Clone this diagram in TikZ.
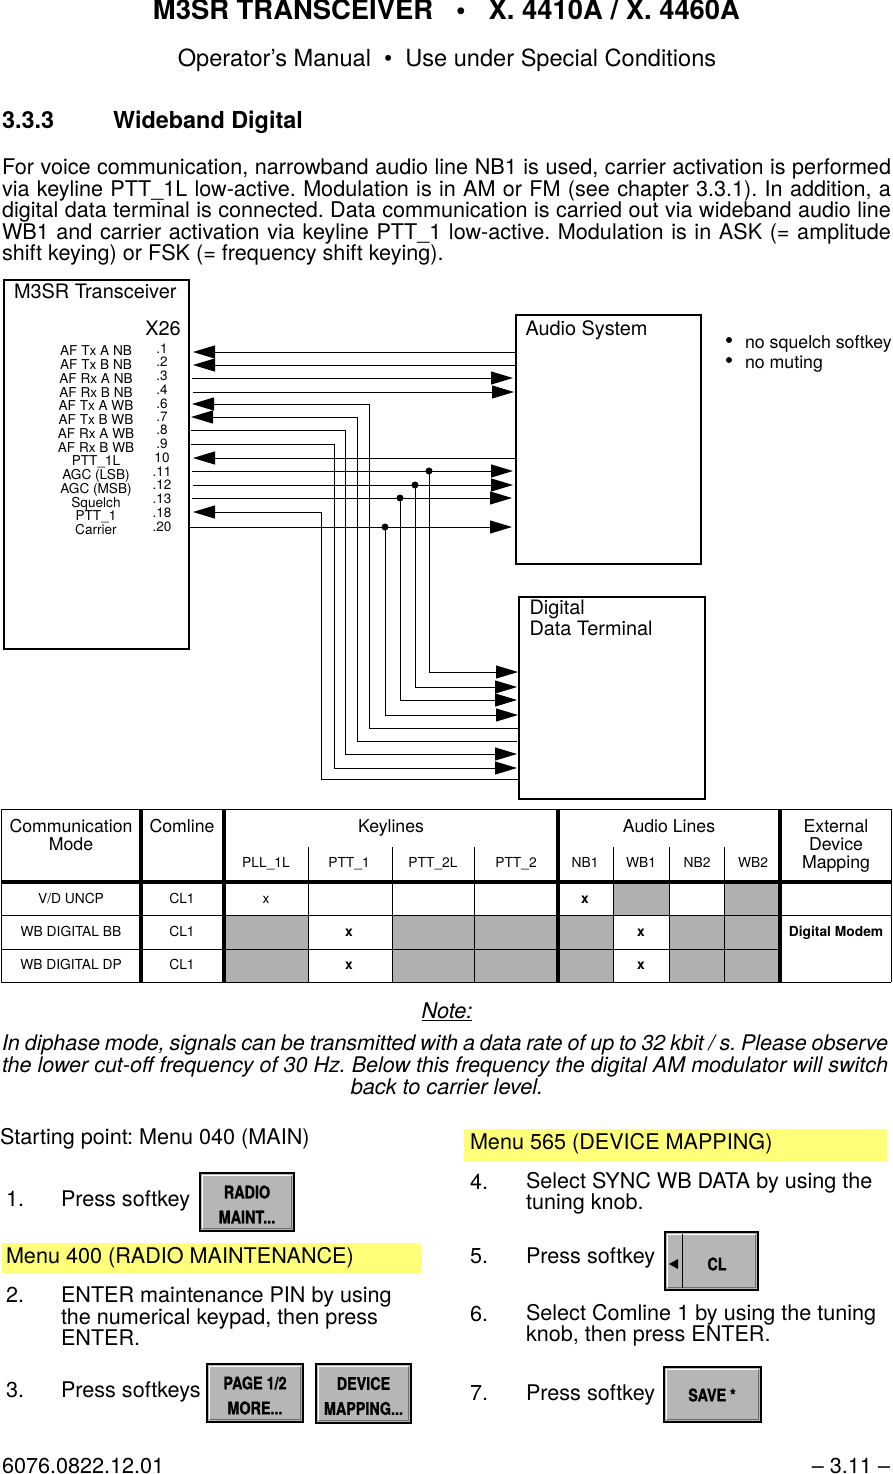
\documentclass[tikz,border=0pt]{standalone}
\usepackage{fontspec}
\setmainfont{TeX Gyre Heros}
\newfontfamily\btnfont{TeX Gyre Heros}[FakeStretch=0.82,FakeBold=1]
\usetikzlibrary{arrows.meta,calc}
\frenchspacing
\newcommand{\fs}[2]{\fontsize{#1}{#2}\selectfont}
\newcommand{\jl}[1]{\makebox[889pt][s]{#1}}
\newcommand{\il}[1]{\makebox[886pt][s]{#1}}
\definecolor{cellgray}{HTML}{B0B0B0}
\definecolor{btngray}{HTML}{B6B6B6}
\definecolor{btndark}{HTML}{6E6E6E}
\definecolor{hiyellow}{HTML}{FFFF7A}
\tikzset{
  x=1pt,y=-1pt,
  tb/.style={inner sep=0pt,outer sep=0pt},
  txt/.style={tb,anchor=mid west,yshift=-5pt,font=\fs{21.6}{21.5}},
  ctxt/.style={tb,anchor=mid,yshift=-5pt,font=\fs{21.6}{21.5}},
  rtxt/.style={tb,anchor=mid east,yshift=-5pt,font=\fs{21.6}{21.5}},
  dtxt/.style={tb,anchor=mid west,yshift=-4pt,font=\fs{19.9}{20}},
  ml/.style={tb,anchor=north west,yshift=-3pt,align=left,font=\fs{21.6}{21.5}},
  boxn/.style={draw,line width=2pt,inner sep=0pt,outer sep=0pt},
  pinl/.style={tb,anchor=mid,yshift=-3pt,font=\fs{13.6}{14}},
  pinn/.style={tb,anchor=mid,yshift=-2.5pt,font=\fs{13.5}{14}},
  wire/.style={line width=1pt},
  tip/.style={-{Triangle[length=22pt,width=13pt]}},
  jdot/.style={circle,fill,inner sep=0pt,minimum size=7pt},
  hd/.style={tb,anchor=mid,yshift=-4pt,font=\fs{17.7}{18}},
  sub/.style={tb,anchor=mid,yshift=-3pt,font=\fs{13.8}{14}},
  cell/.style={tb,anchor=mid,yshift=-2.5pt,font=\fs{13.8}{14}},
  bcell/.style={tb,anchor=mid,yshift=-2.5pt,font=\fs{13.8}{14}\bfseries},
  softbtn/.style={draw,line width=1.5pt,fill=btngray,inner sep=0pt,outer sep=0pt},
  btxt/.style={tb,align=center,font=\fs{17.5}{25}\btnfont\bfseries},
}
\newcommand{\bevel}[1]{%
  \draw[white,line width=1.5pt] ($(#1.south west)+(2.5,-3)$) -- ($(#1.north west)+(2.5,2.5)$) -- ($(#1.north east)+(-3,2.5)$);
  \draw[btndark,line width=1.5pt] ($(#1.south west)+(2.5,-2.5)$) -- ($(#1.south east)+(-2.5,-2.5)$) -- ($(#1.north east)+(-2.5,2.5)$);
}
\begin{document}
\begin{tikzpicture}
\useasboundingbox (0,0) rectangle (892,1474);
% header
\node[ctxt,font=\fs{27.4}{26}\bfseries] (title) at (446.5,12.3) {M3SR TRANSCEIVER\hspace{23pt}•\hspace{23pt}X. 4410A / X. 4460A};
\node[ctxt,font=\fs{23.6}{23}] (subtitle) at (447,59) {Operator’s Manual\hspace{13pt}•\hspace{13pt}Use under Special Conditions};
\node[txt,font=\fs{23.4}{22}\bfseries] (secnum) at (2,121) {3.3.3};
\node[txt,font=\fs{23.4}{22}\bfseries] (sectitle) at (113,121) {Wideband Digital};
\node[txt] (para1) at (2,167) {\jl{For voice communication, narrowband audio line NB1 is used, carrier activation is performed}};
\node[txt] (para2) at (2,189) {\jl{via keyline PTT\_1L low-active. Modulation is in AM or FM (see chapter 3.3.1). In addition, a}};
\node[txt] (para3) at (2,210) {\jl{digital data terminal is connected. Data communication is carried out via wideband audio line}};
\node[txt] (para4) at (2,232) {\jl{WB1 and carrier activation via keyline PTT\_1 low-active. Modulation is in ASK (= amplitude}};
\node[txt] (para5) at (2,253) {shift keying) or FSK (= frequency shift keying).};
% boxes
\node[boxn,minimum width=185pt,minimum height=369pt] (trx) at (96.5,464.5) {};
\node[boxn,minimum width=185pt,minimum height=249pt] (audio) at (608.5,439.5) {};
\node[boxn,minimum width=186pt,minimum height=202pt] (ddt) at (612,698) {};
\node[dtxt] (trxl) at (14,292) {M3SR Transceiver};
\node[dtxt] (x26) at (145.3,329) {X26};
\node[dtxt] (audiol) at (525.5,329) {Audio System};
\node[dtxt] (ddtl1) at (529.5,608) {Digital};
\node[dtxt] (ddtl2) at (529.5,629) {Data Terminal};
% pin labels
\foreach \n/\t/\y in {a/AF Tx A NB/350,b/AF Tx B NB/364,c/AF Rx A NB/378,d/AF Rx B NB/392,e/AF Tx A WB/405,f/AF Tx B WB/419,g/AF Rx A WB/433,h/AF Rx B WB/447,i/PTT\_1L/460,j/AGC (LSB)/474,k/AGC (MSB)/488,l/Squelch/502,m/PTT\_1/515,n/Carrier/529}
  \node[pinl] (lab\n) at (96,\y) {\t};
\foreach \n/\t/\y in {a/.1/348,b/.2/361,c/.3/375,d/.4/389,e/.6/403,f/.7/416,g/.8/429,h/.9/443,i/10/457,j/.11/471,k/.12/484,l/.13/498,m/.18/512,n/.20/526}
  \node[pinn] (num\n) at (162,\y) {\t};
% named wire ends
\foreach \n/\xx/\y in {a/193/352,b/193/365,c/192/378,d/193/392,e/192/404,f/191/417,g/191/430,h/191/444,i/193/458,j/192/471,k/193/485,l/192/498,m/193/512,n/189/527}
  \coordinate (p\n) at (\xx,\y);
\foreach \n/\xx/\y in {a/516/352,b/516/365,c/513/378,d/514/392,i/516/458,j/513/471,k/513/485,l/512/498,n/512/527}
  \coordinate (q\n) at (\xx,\y);
\foreach \n/\xx/\y in {j/518/672,k/517/687,l/517/700,n/518/715,e/519/728,f/517/741,g/517/754,h/517/768,m/519/779}
  \coordinate (r\n) at (\xx,\y);
% junctions
\node[jdot] (jj) at (429,471) {};
\node[jdot] (jk) at (415,485) {};
\node[jdot] (jl) at (400,498) {};
\node[jdot] (jn) at (385,527) {};
% to audio system
\draw[wire,tip] (qa) -- (pa);
\draw[wire,tip] (qb) -- (pb);
\draw[wire,tip] (pc) -- (qc);
\draw[wire,tip] (pd) -- (qd);
\draw[wire,tip] (qi) -- (pi);
\draw[wire,tip] (pj) -- (qj);
\draw[wire,tip] (pk) -- (qk);
\draw[wire,tip] (pl) -- (ql);
\draw[wire,tip] (pn) -- (qn);
% to data terminal
\draw[wire,tip] (jj.center) |- (rj);
\draw[wire,tip] (jk.center) |- (rk);
\draw[wire,tip] (jl.center) |- (rl);
\draw[wire,tip] (jn.center) |- (rn);
\draw[wire,{Triangle[length=22pt,width=13pt]}-] (pe) -| (369,728) -- (re);
\draw[wire,{Triangle[length=22pt,width=13pt]}-] (pf) -| (357,741) -- (rf);
\draw[wire,tip] (pg) -| (345,754) -- (rg);
\draw[wire,tip] (ph) -| (334,768) -- (rh);
\draw[wire,{Triangle[length=22pt,width=13pt]}-] (pm) -| (321,779) -- (rm);
% bullets
\node[jdot,minimum size=6pt] (b1) at (729,340) {};
\node[jdot,minimum size=6pt] (b2) at (729,360) {};
\node[dtxt,font=\fs{17.75}{18}] (nosq) at (745,342) {no squelch softkey};
\node[dtxt,font=\fs{17.75}{18}] (nomu) at (745,362) {no muting};
% table
\fill[cellgray] (613,882) rectangle (669,915);
\fill[cellgray] (724,882) rectangle (780,915);
\fill[cellgray] (224,915) rectangle (308,982);
\fill[cellgray] (392,915) rectangle (613,982);
\fill[cellgray] (669,915) rectangle (780,982);
\draw[line width=1pt] (1,809) -- (891,809) (1,982) -- (891,982);
\draw[line width=1pt] (1,809) -- (1,982) (891,809) -- (891,982);
\draw[line width=1pt] (1,915) -- (891,915) (1,949) -- (780,949);
\draw[line width=4pt] (1,882) -- (891,882);
\foreach \xx in {141,224,558,780} \draw[line width=3.5pt] (\xx,809) -- (\xx,982);
\foreach \xx in {308,392,474,613,669,724} \draw[line width=1pt] (\xx,847) -- (\xx,982);
\node[hd] (h1a) at (71,826) {Communication};
\node[hd] (h1b) at (71,844) {Mode};
\node[hd] (h2) at (182,826) {Comline};
\node[hd] (h3) at (391,826) {Keylines};
\node[hd] (h4) at (669,826) {Audio Lines};
\node[hd] (h5a) at (836,826) {External};
\node[hd] (h5b) at (836,844) {Device};
\node[hd] (h5c) at (836,862) {Mapping};
\foreach \n/\t/\xx in {a/PLL\_1L/266,b/PTT\_1/349,c/PTT\_2L/433,d/PTT\_2/516,e/NB1/585,f/WB1/641,g/NB2/697,h/WB2/753}
  \node[sub] (s\n) at (\xx,862) {\t};
\node[cell] (r1a) at (71,898) {V/D UNCP};
\node[cell] (r2a) at (71,931) {WB DIGITAL BB};
\node[cell] (r3a) at (71,964) {WB DIGITAL DP};
\node[cell] (r1b) at (182,898) {CL1};
\node[cell] (r2b) at (182,931) {CL1};
\node[cell] (r3b) at (182,964) {CL1};
\node[cell] (x1) at (266,898) {x};
\node[bcell] (x2) at (585,898) {x};
\node[bcell] (x3) at (349,931) {x};
\node[bcell] (x4) at (641,931) {x};
\node[bcell] (x5) at (349,964) {x};
\node[bcell] (x6) at (641,964) {x};
\node[bcell] (modem) at (836,931) {Digital Modem};
% note
\node[ctxt,font=\fs{21.7}{21.5}\itshape] (note) at (447,1011) {\underline{Note:}};
\node[ctxt,font=\fs{21.5}{21.5}\itshape] (n1) at (445,1043) {\il{In diphase mode, signals can be transmitted with a data rate of up to 32 kbit / s. Please observe}};
\node[ctxt,font=\fs{21.5}{21.5}\itshape] (n2) at (445,1065) {\il{the lower cut-off frequency of 30 Hz. Below this frequency the digital AM modulator will switch}};
\node[ctxt,font=\fs{21.7}{21.5}\itshape] (n3) at (447,1087) {back to carrier level.};
% left column
\node[txt] (start) at (0,1137) {Starting point: Menu 040 (MAIN)};
\node[txt] (n1l) at (6,1199) {1.};
\node[txt] (s1) at (61,1199) {Press softkey};
\node[softbtn,minimum width=94pt,minimum height=58pt] (btn1) at (247,1202) {};
\bevel{btn1}
\node[btxt] (btn1t) at ($(btn1.center)+(0,2.5)$) {RADIO\\MAINT...};
\fill[hiyellow] (2,1243) rectangle (421,1273);
\node[txt] (m400) at (6,1256) {Menu 400 (RADIO MAINTENANCE)};
\node[txt] (n2l) at (6,1295) {2.};
\node[ml] (s2) at (61,1284) {ENTER maintenance PIN by using\\the numerical keypad, then press\\ENTER.};
\node[txt] (n3l) at (6,1390) {3.};
\node[txt] (s3) at (61,1390) {Press softkeys};
\node[softbtn,minimum width=96pt,minimum height=58pt] (btn2) at (255,1393) {};
\bevel{btn2}
\node[btxt] (btn2t) at ($(btn2.center)+(0,2.5)$) {PAGE 1/2\\MORE...};
\node[softbtn,minimum width=95pt,minimum height=59pt] (btn3) at (363.5,1393.5) {};
\bevel{btn3}
\node[btxt] (btn3t) at ($(btn3.center)+(0,2.5)$) {DEVICE\\MAPPING...};
% right column
\fill[hiyellow] (464,1129) rectangle (887,1161);
\node[txt] (m565) at (470,1142) {Menu 565 (DEVICE MAPPING)};
\node[txt] (n4l) at (470,1182) {4.};
\node[ml] (s4) at (526,1169) {Select SYNC WB DATA by using the\\tuning knob.};
\node[txt] (n5l) at (470,1256) {5.};
\node[txt] (s5) at (526,1256) {Press softkey};
\node[softbtn,minimum width=93pt,minimum height=58pt] (btn4) at (711.5,1261) {};
\bevel{btn4}
\node[btxt] (btn4t) at (717,1264) {CL};
\draw[line width=1pt] (682,1234) -- (682,1288);
\fill (669,1264) -- (678,1259) -- (678,1269) -- cycle;
\node[txt] (n6l) at (470,1314) {6.};
\node[ml] (s6) at (526,1301) {Select Comline 1 by using the tuning\\knob, then press ENTER.};
\node[txt] (n7l) at (470,1393) {7.};
\node[txt] (s7) at (526,1393) {Press softkey};
\node[softbtn,minimum width=97pt,minimum height=55pt] (btn5) at (712.5,1394.5) {};
\bevel{btn5}
\node[btxt] (btn5t) at (712,1395) {SAVE *};
% footer
\node[txt] (foot1) at (2,1465.5) {6076.0822.12.01};
\node[rtxt] (foot2) at (890,1465.5) {– 3.11 –};
\end{tikzpicture}
\end{document}
